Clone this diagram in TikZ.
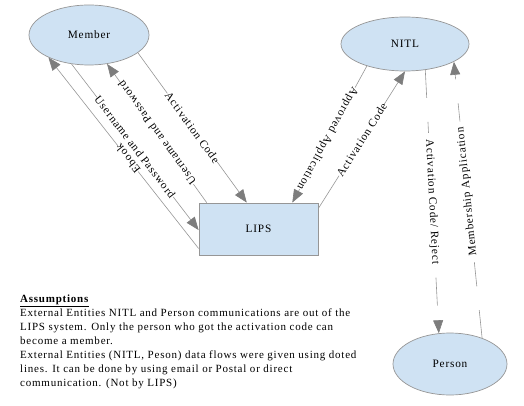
\documentclass[tikz,border=0pt]{standalone}
\usepackage{fontspec}
\setmainfont{Liberation Serif}[LetterSpace=7]
\usetikzlibrary{arrows.meta,shapes.geometric}
\definecolor{entfill}{RGB}{207,226,243}
\definecolor{edgec}{RGB}{150,150,150}
\definecolor{tipc}{RGB}{125,125,125}
\begin{document}
\begin{tikzpicture}[x=1pt,y=-1pt,
  entity/.style={ellipse,draw=edgec,fill=entfill,line width=0.7pt,inner sep=0pt,font=\fontsize{11.3}{13}\selectfont},
  procbox/.style={rectangle,draw=edgec,fill=entfill,line width=0.8pt,inner sep=0pt,font=\fontsize{11.3}{13}\selectfont},
  flow/.style={draw=edgec,line width=0.6pt,-{Triangle[length=13pt,width=10pt,color=tipc]}},
  dflow/.style={flow,dash pattern=on 28pt off 24pt},
  lbl/.style={fill=white,inner sep=0pt,sloped,allow upside down,font=\fontsize{11.3}{12}\selectfont}]
\useasboundingbox (0,0) rectangle (524,406);
\node[entity,minimum width=120pt,minimum height=60pt] (member) at (89,35) {Member};
\node[entity,minimum width=128pt,minimum height=54pt] (nitl) at (405,44) {NITL};
\node[entity,minimum width=114pt,minimum height=62pt] (person) at (450,364) {Person};
\node[procbox,minimum width=119pt,minimum height=52pt] (lips) at (258.5,229) {LIPS};
% Member <-> LIPS
\draw[flow] (member.-20) -- node[lbl,pos=0.5] {Activation Code} (lips.114);
\draw[flow] (lips.153) -- node[lbl,pos=0.5] {Username and Password} (member.-58);
\draw[flow] (member.-121) -- node[lbl,pos=0.5] {Username and Password} (lips.181);
\draw[flow] (lips.198) -- node[lbl,pos=0.47] {Ebook} (member.-151);
% NITL <-> LIPS
\draw[flow] (nitl.-150) -- node[lbl,pos=0.53] {Approved Application} (lips.38);
\draw[flow] (lips.19) -- node[lbl,pos=0.5] {Activation Code} (nitl.-90);
% NITL <-> Person (dashed)
\draw[dflow] (nitl.-52) -- node[lbl,pos=0.5,inner xsep=6pt] {Activation Code/ Reject} (person.110);
\draw[dflow] (person.39) -- node[lbl,pos=0.53,inner xsep=6pt] {Membership Application} (nitl.-20);
% Notes
\node[anchor=north west,inner sep=0pt,align=left,font=\fontsize{11}{14.1}\selectfont] (notes) at (20,294.5)
 {\underline{\textbf{Assumptions}}\\
  External Entities NITL and Person communications are out of the\\
  LIPS system. Only the person who got the activation code can\\
  become a member.\\
  External Entities (NITL, Peson) data flows were given using doted\\
  lines. It can be done by using email or Postal or direct\\
  communication. (Not by LIPS)};
\end{tikzpicture}
\end{document}
